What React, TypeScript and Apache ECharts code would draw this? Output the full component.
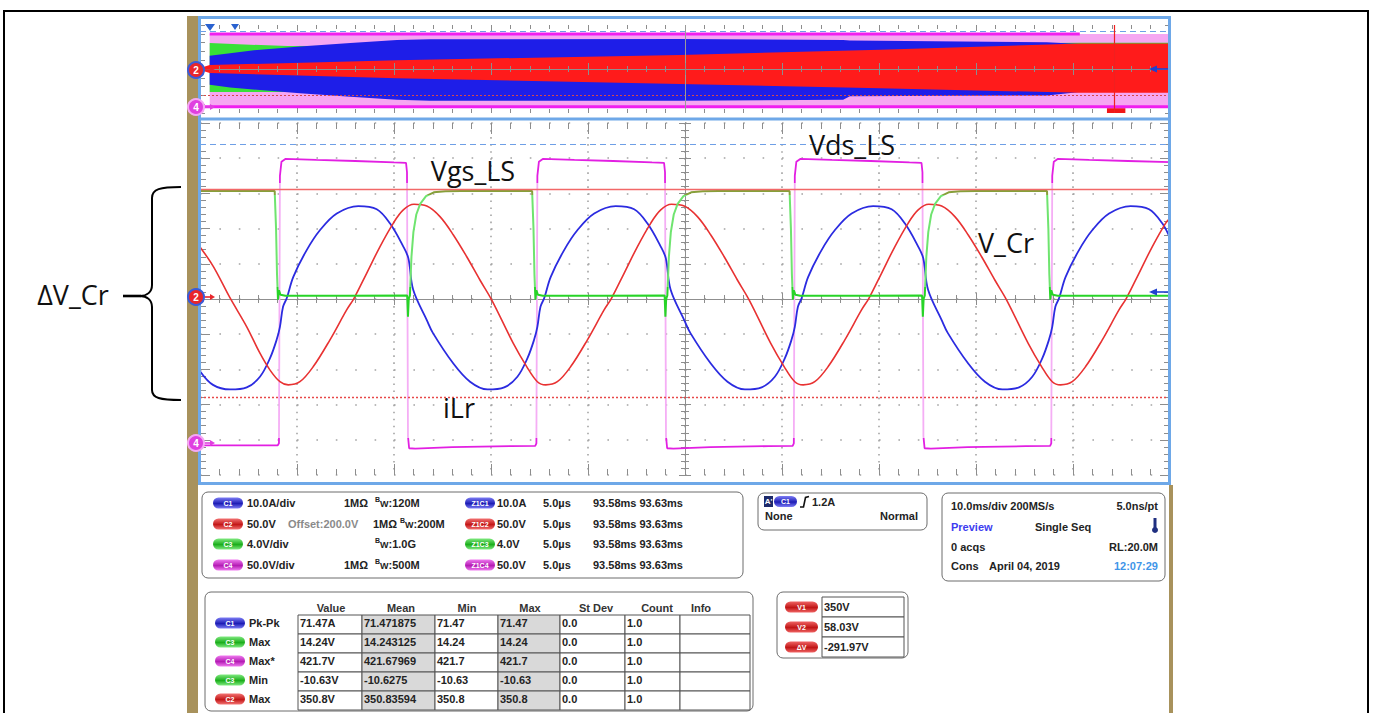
import React, { useEffect, useRef } from 'react';
import * as echarts from 'echarts';

// ================= DATA =================
// Zoomed traces: time in µs (5 µs/div), vertical position in screen divisions
const c1Points: [number, number][] = [ // iLr (blue)
  [-25.0, -2.05], [-24.33, -2.44], [-23.45, -2.57], [-22.59, -2.51], [-21.91, -2.21], [-21.39, -1.68], [-21.05, -1.16], [-20.88, -0.79], [-20.72, -0.22], [-20.53, 0.02], [-20.19, 0.63], [-19.5, 1.39], [-18.81, 1.96], [-17.95, 2.43], [-16.84, 2.64], [-15.89, 2.55], [-15.21, 2.15], [-14.52, 1.49], [-14.26, 1.16], [-14.01, 0.26], [-13.31, -0.6], [-12.99, -0.97], [-11.96, -1.82], [-11.08, -2.35],
  [-10.18, -2.57], [-9.32, -2.51], [-8.64, -2.21], [-8.12, -1.68], [-7.78, -1.16], [-7.61, -0.79], [-7.45, -0.22], [-7.26, 0.02], [-6.92, 0.63], [-6.23, 1.39], [-5.54, 1.96], [-4.68, 2.43], [-3.57, 2.64], [-2.62, 2.55], [-1.94, 2.15], [-1.25, 1.49], [-0.99, 1.16], [-0.74, 0.26], [-0.04, -0.6], [0.28, -0.97], [1.31, -1.82], [2.19, -2.35],
  [3.09, -2.57], [3.95, -2.51], [4.63, -2.21], [5.15, -1.68], [5.49, -1.16], [5.66, -0.79], [5.82, -0.22], [6.01, 0.02], [6.35, 0.63], [7.04, 1.39], [7.73, 1.96], [8.59, 2.43], [9.7, 2.64], [10.65, 2.55], [11.33, 2.15], [12.02, 1.49], [12.28, 1.16], [12.53, 0.26], [13.23, -0.6], [13.55, -0.97], [14.58, -1.82], [15.46, -2.35],
  [16.36, -2.57], [17.22, -2.51], [17.9, -2.21], [18.42, -1.68], [18.76, -1.16], [18.93, -0.79], [19.09, -0.22], [19.28, 0.02], [19.62, 0.63], [20.31, 1.39], [21.0, 1.96], [21.86, 2.43], [22.97, 2.64], [23.92, 2.55], [24.6, 2.15], [25.0, 1.73],
];
const c2Points: [number, number][] = [ // V_Cr (red)
  [-25.0, 1.48], [-24.31, 0.92], [-23.45, 0.03], [-22.59, -0.79], [-21.91, -1.54], [-21.39, -2.02], [-20.88, -2.35],
  [-20.45, -2.44], [-19.85, -2.35], [-19.16, -1.92], [-18.3, -1.16], [-17.44, -0.31], [-17.06, 0.02], [-16.41, 0.73], [-15.72, 1.49], [-15.04, 2.15], [-14.52, 2.53], [-13.97, 2.69], [-13.31, 2.64], [-12.63, 2.34], [-11.94, 1.82], [-11.25, 1.2], [-10.57, 0.54], [-9.96, -0.03], [-8.85, -1.26], [-8.16, -1.92], [-7.61, -2.35],
  [-7.18, -2.44], [-6.58, -2.35], [-5.89, -1.92], [-5.03, -1.16], [-4.17, -0.31], [-3.79, 0.02], [-3.14, 0.73], [-2.45, 1.49], [-1.77, 2.15], [-1.25, 2.53], [-0.7, 2.69], [-0.04, 2.64], [0.64, 2.34], [1.33, 1.82], [2.02, 1.2], [2.7, 0.54], [3.31, -0.03], [4.42, -1.26], [5.11, -1.92], [5.66, -2.35],
  [6.09, -2.44], [6.69, -2.35], [7.38, -1.92], [8.24, -1.16], [9.1, -0.31], [9.48, 0.02], [10.13, 0.73], [10.82, 1.49], [11.5, 2.15], [12.02, 2.53], [12.57, 2.69], [13.23, 2.64], [13.91, 2.34], [14.6, 1.82], [15.29, 1.2], [15.97, 0.54], [16.58, -0.03], [17.69, -1.26], [18.38, -1.92], [18.93, -2.35],
  [19.36, -2.44], [19.96, -2.35], [20.65, -1.92], [21.51, -1.16], [22.37, -0.31], [22.75, 0.02], [23.4, 0.73], [24.09, 1.49], [24.77, 2.15], [25.0, 2.3],
];
const c3Points: [number, number][] = [ // Vgs_LS (green)
  [-25.0, 3.07], [-21.15, 3.07], [-21.08, 2.0], [-21.03, 0.7], [-20.98, -0.02], [-20.93, 0.25], [-20.85, 0.12], [-20.6, 0.09], [-17.5, 0.09], [-14.32, 0.1], [-14.28, -0.5], [-14.24, 0.0], [-14.18, 0.1], [-14.1, 1.2], [-14.0, 1.9], [-13.85, 2.4], [-13.65, 2.7], [-13.35, 2.92], [-12.95, 3.03], [-12.35, 3.06], [-11.55, 3.07], [-7.88, 3.07],
  [-7.81, 2.0], [-7.76, 0.7], [-7.71, -0.02], [-7.66, 0.25], [-7.58, 0.12], [-7.33, 0.09], [-4.23, 0.09], [-1.05, 0.1], [-1.01, -0.5], [-0.97, 0.0], [-0.91, 0.1], [-0.83, 1.2], [-0.73, 1.9], [-0.58, 2.4], [-0.38, 2.7], [-0.08, 2.92], [0.32, 3.03], [0.92, 3.06], [1.72, 3.07], [5.39, 3.07],
  [5.46, 2.0], [5.51, 0.7], [5.56, -0.02], [5.61, 0.25], [5.69, 0.12], [5.94, 0.09], [9.04, 0.09], [12.22, 0.1], [12.26, -0.5], [12.3, 0.0], [12.36, 0.1], [12.44, 1.2], [12.54, 1.9], [12.69, 2.4], [12.89, 2.7], [13.19, 2.92], [13.59, 3.03], [14.19, 3.06], [14.99, 3.07], [18.66, 3.07],
  [18.73, 2.0], [18.78, 0.7], [18.83, -0.02], [18.88, 0.25], [18.96, 0.12], [19.21, 0.09], [22.3, 0.09], [25.0, 0.09],
];
const c4Points: [number, number][] = [ // Vds_LS (magenta)
  [-25.0, -4.16], [-21.0, -4.16], [-20.93, -4.1], [-20.88, 3.5], [-20.8, 3.9], [-20.6, 3.98], [-19.0, 3.95], [-17.0, 3.92], [-15.0, 3.88], [-14.38, 3.87], [-14.33, 3.6], [-14.28, -3.9], [-14.22, -4.24], [-13.9, -4.25], [-12.0, -4.21], [-9.0, -4.18],
  [-7.72, -4.17], [-7.66, -4.1], [-7.61, 3.5], [-7.53, 3.9], [-7.33, 3.98], [-5.7, 3.95], [-3.7, 3.92], [-1.7, 3.88], [-1.08, 3.87], [-1.03, 3.6], [-0.98, -3.9], [-0.92, -4.24], [-0.6, -4.25], [1.3, -4.21], [4.3, -4.18],
  [5.55, -4.17], [5.61, -4.1], [5.66, 3.5], [5.74, 3.9], [5.94, 3.98], [7.57, 3.95], [9.57, 3.92], [11.57, 3.88], [12.19, 3.87], [12.24, 3.6], [12.29, -3.9], [12.35, -4.24], [12.67, -4.25], [14.57, -4.21], [17.57, -4.18],
  [18.82, -4.17], [18.88, -4.1], [18.93, 3.5], [19.01, 3.9], [19.21, 3.98], [20.84, 3.95], [22.84, 3.92], [25.0, 3.89],
];
const cursorV1 = 3.12;     // V1 = 350 V (solid)
const cursorV2 = -2.8;     // V2 = 58.03 V (dotted)
const refDashed = 4.4;     // light blue dashed reference

// Overview (10 ms/div): [time ms, lower div, upper div]
const c4Env: [number, number, number][] = [[1.0, -4.28, 3.98], [100, -4.28, 3.98]];
const c3Env: [number, number, number][] = [[1.0, -2.6, 2.95], [9.0, -2.6, 2.6], [60, -2.6, 2.75], [90.7, -2.6, 2.98], [100, -2.6, 2.98]];
const c1Env: [number, number, number][] = [
  [1.0, -1.8, 1.5], [3.1, -2.1, 1.8], [6.2, -2.4, 2.2], [10.3, -2.75, 2.55], [15.5, -3.15, 2.95], [20.3, -3.5, 3.3], [23.7, -3.6, 3.38],
  [49.5, -3.6, 3.4], [66.3, -3.5, 3.3], [67.0, -3.1, 3.25], [87.3, -3.0, 3.05], [90.7, -2.6, 2.85], [100, -2.6, 2.85],
];
const c2Env: [number, number, number][] = [[0, -0.12, 0.12], [1.0, -0.45, 0.45], [20.3, -1.05, 1.0], [49.5, -1.7, 1.6], [70.1, -2.2, 2.2], [90.7, -2.7, 2.9], [100, -2.7, 2.9]];
const c4TopLine: [number, number][] = [[1.0, 3.98], [90.7, 3.98]];
const c4BottomLine: [number, number][] = [[0, -4.28], [100, -4.28]];
const ovRefDashed = 4.32;
const ovCursorV2 = -2.95;
const ovCenterTime = 50;
const ovZoomPos = 94.3;
const ovZoomBox = [93.5, 95.4];

// Info panels
const chanBadges = ['C1', 'C2', 'C3', 'C4'];
const chanScales = ['10.0A/div', '50.0V', '4.0V/div', '50.0V/div'];
const chanOffsets = ['', 'Offset:200.0V', '', ''];
const chanImped = ['1MΩ', '1MΩ', '', '1MΩ'];
const chanBw = ['120M', '200M', '1.0G', '500M'];
const zoomBadges = ['Z1C1', 'Z1C2', 'Z1C3', 'Z1C4'];
const zoomScales = ['10.0A', '50.0V', '4.0V', '50.0V'];
const zoomTimes = ['5.0µs', '5.0µs', '5.0µs', '5.0µs'];
const zoomWindows = ['93.58ms 93.63ms', '93.58ms 93.63ms', '93.58ms 93.63ms', '93.58ms 93.63ms'];

const measHeaders = ['Value', 'Mean', 'Min', 'Max', 'St Dev', 'Count', 'Info'];
const measChannels = ['C1', 'C3', 'C4', 'C3', 'C2'];
const measParams = ['Pk-Pk', 'Max', 'Max*', 'Min', 'Max'];
const measValue = ['71.47A', '14.24V', '421.7V', '-10.63V', '350.8V'];
const measMean = ['71.471875', '14.243125', '421.67969', '-10.6275', '350.83594'];
const measMin = ['71.47', '14.24', '421.7', '-10.63', '350.8'];
const measMax = ['71.47', '14.24', '421.7', '-10.63', '350.8'];
const measStdDev = ['0.0', '0.0', '0.0', '0.0', '0.0'];
const measCount = ['1.0', '1.0', '1.0', '1.0', '1.0'];

const cursorLabels = ['V1', 'V2', 'ΔV'];
const cursorValues = ['350V', '58.03V', '-291.97V'];

// ================= STYLE HELPERS =================
const FONT = '"Liberation Sans", Arial, sans-serif';
const TICK_C = '#8d8d8d';
const DOT_C = '#a4a4a4';
const BLUE_FRAME = '#6ea8e8';
const TAN = '#a8925c';

const PAL: Record<string, [string, string]> = {
  C1: ['#7d7df5', '#1d1db5'], Z1C1: ['#7d7df5', '#1d1db5'],
  C2: ['#f37272', '#c31818'], Z1C2: ['#f37272', '#c31818'],
  C3: ['#80ea80', '#1cae1c'], Z1C3: ['#80ea80', '#1cae1c'],
  C4: ['#f07af0', '#b41cb4'], Z1C4: ['#f07af0', '#b41cb4'],
  V1: ['#f06464', '#c01616'], V2: ['#f06464', '#c01616'], 'ΔV': ['#f06464', '#c01616'],
};

function txt(x: number, y: number, text: string, o: any = {}) {
  const align = o.align || 'left';
  return {
    type: 'text', x, y, z: o.z ?? 60, silent: true,
    style: {
      text, fill: o.color || '#232323', fontSize: o.size || 11, fontWeight: o.weight || 'bold',
      fontFamily: o.family || FONT, align, textAlign: align, verticalAlign: 'middle', textVerticalAlign: 'middle',
    },
  };
}
function rect(x: number, y: number, w: number, h: number, o: any = {}) {
  return {
    type: 'rect', z: o.z ?? 55, silent: true,
    shape: { x, y, width: w, height: h, r: o.r ?? 0 },
    style: { fill: o.fill ?? '#fff', stroke: o.stroke ?? 'none', lineWidth: o.lw ?? 1 },
  };
}
function badge(x: number, y: number, w: number, label: string) {
  const p = PAL[label] || PAL.C1;
  return [
    {
      type: 'rect', z: 58, silent: true, shape: { x, y: y - 5.5, width: w, height: 11, r: 5.5 },
      style: { fill: { type: 'linear', x: 0, y: 0, x2: 0, y2: 1, colorStops: [{ offset: 0, color: p[0] }, { offset: 0.55, color: p[1] }, { offset: 1, color: p[0] }] } },
    },
    txt(x + w / 2, y, label, { color: '#fff', size: 7, align: 'center', z: 59 }),
  ];
}
function line(x1: number, y1: number, x2: number, y2: number, color: string, w: number, z = 160) {
  return { type: 'line', z, silent: true, shape: { x1, y1, x2, y2 }, style: { stroke: color, lineWidth: w } };
}
function poly(points: number[][], color: string, z = 160) {
  return { type: 'polygon', z, silent: true, shape: { points }, style: { fill: color } };
}
function marker(cx: number, cy: number, label: string, fill: string, ring: string, arrow: string) {
  return [
    { type: 'circle', z: 170, silent: true, shape: { cx, cy, r: 8 }, style: { fill, stroke: ring, lineWidth: 2 } },
    txt(cx, cy + 0.5, label, { color: '#fff', size: 10, align: 'center', z: 171 }),
    line(cx + 9, cy, cx + 15, cy, arrow, 1.6, 170),
    poly([[cx + 14, cy - 3], [cx + 19, cy], [cx + 14, cy + 3]], arrow, 170),
  ];
}
function bez(x1: number, y1: number, c1x: number, c1y: number, c2x: number, c2y: number, x2: number, y2: number) {
  return {
    type: 'bezierCurve', z: 60, silent: true,
    shape: { x1, y1, cpx1: c1x, cpy1: c1y, cpx2: c2x, cpy2: c2y, x2, y2 },
    style: { stroke: '#000', lineWidth: 2, fill: 'none' },
  };
}

// ---- axes ----
function xEdge(gridIndex: number, min: number, max: number, interval: number, position: string, major: number, minor: number, split: number[] | null) {
  return {
    type: 'value', gridIndex, min, max, interval, position,
    axisLine: { show: false, onZero: false },
    axisTick: { show: true, inside: true, length: major, lineStyle: { color: TICK_C, width: 1 } },
    minorTick: { show: minor > 0, splitNumber: 5, length: minor, lineStyle: { color: TICK_C, width: 1 } },
    axisLabel: { show: false },
    splitLine: split ? { show: true, lineStyle: { color: DOT_C, width: 1.6, type: split } } : { show: false },
    minorSplitLine: { show: false },
  };
}
function xCenter(gridIndex: number, min: number, max: number, interval: number, inside: boolean, yIndex: number, z: number, minor: number) {
  return {
    type: 'value', gridIndex, min, max, interval, position: 'bottom', z,
    axisLine: { show: true, onZero: true, onZeroAxisIndex: yIndex, lineStyle: { color: '#8f8f8f', width: 1 } },
    axisTick: { show: true, inside, length: 6, lineStyle: { color: TICK_C } },
    minorTick: { show: true, splitNumber: 5, length: minor, lineStyle: { color: TICK_C } },
    axisLabel: { show: false }, splitLine: { show: false }, minorSplitLine: { show: false },
  };
}
function yEdge(gridIndex: number, position: string, major: number, minor: number, split: number[] | null) {
  return {
    type: 'value', gridIndex, min: -5, max: 5, interval: 1, position,
    axisLine: { show: false, onZero: false },
    axisTick: { show: true, inside: true, length: major, lineStyle: { color: TICK_C, width: 1 } },
    minorTick: { show: minor > 0, splitNumber: 5, length: minor, lineStyle: { color: TICK_C, width: 1 } },
    axisLabel: { show: false },
    splitLine: split ? { show: true, lineStyle: { color: DOT_C, width: 1.6, type: split } } : { show: false },
    minorSplitLine: { show: false },
  };
}
function yCenter(gridIndex: number, inside: boolean, xIndex: number) {
  return {
    type: 'value', gridIndex, min: -5, max: 5, interval: 1, position: 'left',
    axisLine: { show: true, onZero: true, onZeroAxisIndex: xIndex, lineStyle: { color: '#8f8f8f', width: 1 } },
    axisTick: { show: true, inside, length: 6, lineStyle: { color: TICK_C } },
    minorTick: { show: true, splitNumber: 5, length: 4, lineStyle: { color: TICK_C } },
    axisLabel: { show: false }, splitLine: { show: false }, minorSplitLine: { show: false },
  };
}

function envelopeSeries(env: [number, number, number][], color: string) {
  return {
    type: 'custom', coordinateSystem: 'cartesian2d', xAxisIndex: 0, yAxisIndex: 0, silent: true,
    data: env, encode: { x: 0, y: [1, 2] },
    renderItem: (params: any, api: any) => {
      if (params.dataIndex !== 0) return { type: 'group', children: [] };
      const upper = env.map((r) => api.coord([r[0], r[2]]));
      const lower = env.slice().reverse().map((r) => api.coord([r[0], r[1]]));
      return { type: 'polygon', shape: { points: upper.concat(lower) }, style: { fill: color } };
    },
  };
}

function buildOption() {
  const G: any[] = [];

  // outer border, scope frame
  G.push(rect(4, 11, 1364, 740, { fill: 'none', stroke: '#000', lw: 2, z: 200 }));
  G.push(rect(187, 16, 11, 700, { fill: TAN, z: 150 }));
  G.push(rect(1169, 485, 4, 230, { fill: TAN, z: 150 }));
  G.push(rect(199.5, 17.5, 970, 466, { fill: 'none', stroke: BLUE_FRAME, lw: 3, z: 150 }));
  G.push(line(199.5, 119, 1169.5, 119, BLUE_FRAME, 3, 150));

  // channel markers / arrows
  G.push(...marker(196, 70, '2', '#e8262b', '#3a5bd9', '#e8262b'));
  G.push(...marker(196, 107, '4', '#e040e0', '#f4a8f4', '#e040e0'));
  G.push(...marker(196, 297, '2', '#e8262b', '#3a5bd9', '#e8262b'));
  G.push(...marker(196, 443, '4', '#e040e0', '#f4a8f4', '#e040e0'));
  G.push(line(1156, 69, 1168, 69, '#2040d0', 1.6), poly([[1149, 69], [1157, 65.5], [1157, 72.5]], '#2040d0'));
  G.push(line(1156, 292, 1168, 292, '#2040d0', 1.6), poly([[1149, 292], [1157, 288.5], [1157, 295.5]], '#2040d0'));
  G.push(poly([[205, 24], [215, 24], [210, 31]], '#2a62d0'), poly([[231, 24], [239, 24], [235, 30]], '#2a62d0'));

  // annotations
  const ann = { family: '"Open Sans", "Noto Sans", sans-serif', size: 27, weight: 'normal', color: '#111' };
  G.push(txt(473, 170, 'Vgs_LS', { ...ann, align: 'center' }));
  G.push(txt(852, 144, 'Vds_LS', { ...ann, align: 'center' }));
  G.push(txt(1006, 242, 'V_Cr', { ...ann, align: 'center' }));
  G.push(txt(459, 407, 'iLr', { ...ann, align: 'center' }));
  G.push(txt(73, 294, 'ΔV_Cr', { ...ann, align: 'center' }));
  G.push(bez(181, 187, 160, 187, 152, 189, 152, 198));
  G.push({ type: 'line', z: 60, silent: true, shape: { x1: 152, y1: 198, x2: 152, y2: 285 }, style: { stroke: '#000', lineWidth: 2 } });
  G.push(bez(152, 285, 152, 292, 147, 296, 140, 296));
  G.push(bez(140, 296, 147, 296, 152, 300, 152, 307));
  G.push({ type: 'line', z: 60, silent: true, shape: { x1: 152, y1: 307, x2: 152, y2: 390 }, style: { stroke: '#000', lineWidth: 2 } });
  G.push(bez(152, 390, 152, 398, 160, 400, 181, 400));
  G.push({ type: 'line', z: 60, silent: true, shape: { x1: 123, y1: 296, x2: 141, y2: 296 }, style: { stroke: '#000', lineWidth: 2.6 } });

  // ---- channel panel ----
  G.push(rect(202, 492, 541, 86, { r: 6, stroke: '#6c6c6c' }));
  const rowY = [503, 524, 544, 565];
  chanBadges.forEach((b, i) => {
    const y = rowY[i];
    G.push(...badge(213, y, 30, b));
    G.push(txt(247, y, chanScales[i]));
    const hasOff = chanOffsets[i] !== '';
    if (hasOff) G.push(txt(288, y, chanOffsets[i], { color: '#8a8a8a' }));
    if (chanImped[i]) G.push(txt(hasOff ? 397 : 368, y, chanImped[i], { align: 'right' }));
    const bx = hasOff ? 400 : 375;
    G.push(txt(bx, y - 4, 'B', { size: 7 }));
    G.push(txt(bx + 5, y + 1, 'W', { size: 9 }));
    G.push(txt(bx + 13.5, y, ':' + chanBw[i]));
    G.push(...badge(465, y, 30, zoomBadges[i]));
    G.push(txt(497, y, zoomScales[i]));
    G.push(txt(543, y, zoomTimes[i]));
    G.push(txt(593, y, zoomWindows[i]));
  });

  // ---- trigger panel ----
  G.push(rect(758, 493, 169, 37, { r: 6, stroke: '#6c6c6c' }));
  G.push(rect(764, 496, 9, 11, { fill: '#1d2a6b', z: 58 }));
  G.push(txt(768.5, 501.5, "A'", { color: '#fff', size: 8, align: 'center', z: 59 }));
  G.push(...badge(774, 501.5, 23, 'C1'));
  G.push({ type: 'polyline', z: 60, silent: true, shape: { points: [[800, 507], [803.5, 507], [805.5, 497.5], [809, 496.5]] }, style: { stroke: '#111', lineWidth: 1.6, fill: 'none' } });
  G.push(txt(812, 501.5, '1.2A'));
  G.push(txt(765, 516, 'None'));
  G.push(txt(918, 516, 'Normal', { align: 'right' }));

  // ---- timebase panel ----
  G.push(rect(942, 493, 223, 88, { r: 6, stroke: '#6c6c6c' }));
  G.push(txt(951, 506, '10.0ms/div 200MS/s'));
  G.push(txt(1158, 506, '5.0ns/pt', { align: 'right' }));
  G.push(txt(951, 527, 'Preview', { color: '#3d3df0' }));
  G.push(txt(1035, 527, 'Single Seq'));
  G.push(rect(1153.5, 518, 3, 11, { fill: '#1f2f80', z: 58 }));
  G.push({ type: 'circle', z: 58, silent: true, shape: { cx: 1155, cy: 530, r: 3 }, style: { fill: '#1f2f80' } });
  G.push(txt(951, 547, '0 acqs'));
  G.push(txt(1158, 547, 'RL:20.0M', { align: 'right' }));
  G.push(txt(951, 566, 'Cons'));
  G.push(txt(989, 566, 'April 04, 2019'));
  G.push(txt(1158, 566, '12:07:29', { align: 'right', color: '#3f95e8' }));

  // ---- measurement table ----
  G.push(rect(205, 592, 548, 119, { r: 6, stroke: '#6c6c6c' }));
  const headX = [331, 401, 467, 530, 596, 657, 701];
  measHeaders.forEach((h, i) => G.push(txt(headX[i], 607.5, h, { align: 'center', color: '#333' })));
  const colX = [298, 362, 435, 498, 560, 625, 680, 750];
  const rowTop = [615, 634, 653, 672, 691];
  const cols = [measValue, measMean, measMin, measMax, measStdDev, measCount];
  measChannels.forEach((ch, r) => {
    const ty = rowTop[r] + 8;
    G.push(...badge(215, ty, 30, ch));
    G.push(txt(249, ty, measParams[r]));
    for (let c = 0; c < 7; c++) {
      const gray = c === 1 || c === 3;
      G.push(rect(colX[c], rowTop[r], colX[c + 1] - colX[c], 19, { fill: gray ? '#d9d9d9' : '#fff', stroke: '#555', lw: 1, z: 56 }));
      if (c < 6) G.push(txt(colX[c] + 2, ty, cols[c][r]));
    }
  });

  // ---- cursor panel ----
  G.push(rect(777, 592, 131, 66, { r: 6, stroke: '#6c6c6c' }));
  cursorLabels.forEach((lab, i) => {
    const top = 597 + i * 20;
    G.push(rect(822, top, 82, 20, { fill: '#fff', stroke: '#555', z: 56 }));
    G.push(...badge(785, top + 10, 33, lab));
    G.push(txt(824, top + 10, cursorValues[i]));
  });

  const mainLine = (data: [number, number][], color: string | null, smooth: number | boolean, width = 1.8) => ({
    type: 'line', xAxisIndex: 4, yAxisIndex: 2, data, showSymbol: false, symbol: 'none', smooth, silent: true,
    lineStyle: color ? { color, width } : { width },
    ...(color ? { itemStyle: { color } } : {}),
  });

  return {
    animation: false,
    backgroundColor: '#ffffff',
    grid: [
      { left: 200, top: 25, width: 970, height: 88, show: false, outerBoundsMode: 'none' },
      { left: 200, top: 123, width: 970, height: 352, show: false, outerBoundsMode: 'none' },
    ],
    xAxis: [
      xEdge(0, 0, 100, 10, 'bottom', 6, 4, null),
      xEdge(0, 0, 100, 10, 'top', 6, 4, null),
      xCenter(0, 0, 100, 10, true, 0, 5, 3),
      xCenter(0, 0, 100, 10, false, 0, 5, 3),
      xEdge(1, -25, 25, 5, 'bottom', 11, 6, [1.6, 5.44]),
      xEdge(1, -25, 25, 5, 'top', 11, 6, null),
      xCenter(1, -25, 25, 5, true, 2, 1, 4),
      xCenter(1, -25, 25, 5, false, 2, 1, 4),
    ],
    yAxis: [
      yEdge(0, 'left', 5, 0, null),
      yEdge(0, 'right', 5, 0, null),
      yEdge(1, 'left', 10, 6, [1.6, 17.8]),
      yEdge(1, 'right', 10, 6, null),
      yCenter(1, true, 4),
      yCenter(1, false, 4),
    ],
    visualMap: [
      {
        type: 'piecewise', show: false, seriesIndex: 6, dimension: 1,
        pieces: [{ gt: 3.3, color: '#e21fe2' }, { lt: -3.95, color: '#e21fe2' }, { gte: -3.95, lte: 3.3, color: '#f5aef5' }],
      },
      {
        type: 'piecewise', show: false, seriesIndex: 9, dimension: 1,
        pieces: [{ gt: 2.95, color: '#879f3a' }, { lt: 0.35, color: '#27d427' }, { gte: 0.35, lte: 2.95, color: '#6fe46f' }],
      },
    ],
    series: [
      envelopeSeries(c4Env, '#f6a6f2'),
      envelopeSeries(c3Env, '#38e038'),
      envelopeSeries(c1Env, '#1e1ee8'),
      envelopeSeries(c2Env, '#ff1b1b'),
      { type: 'line', xAxisIndex: 0, yAxisIndex: 0, data: c4TopLine, showSymbol: false, symbol: 'none', silent: true, lineStyle: { color: '#f01ef0', width: 3 } },
      {
        type: 'line', xAxisIndex: 0, yAxisIndex: 0, data: c4BottomLine, showSymbol: false, symbol: 'none', silent: true,
        lineStyle: { color: '#f01ef0', width: 3 },
        markLine: {
          silent: true, symbol: ['none', 'none'], label: { show: false }, animation: false,
          data: [
            { yAxis: ovRefDashed, lineStyle: { color: '#6e9fe6', type: [6, 4], width: 1.2 } },
            { yAxis: ovCursorV2, lineStyle: { color: '#d84848', type: [2, 2], width: 1.2 } },
            { xAxis: ovCenterTime, lineStyle: { color: '#9a9a9a', type: 'solid', width: 1 } },
            { xAxis: ovZoomPos, lineStyle: { color: '#f02020', type: 'solid', width: 1.2 } },
          ],
        },
        markArea: {
          silent: true, itemStyle: { color: '#f01818' },
          data: [[{ xAxis: ovZoomBox[0], yAxis: -4.45 }, { xAxis: ovZoomBox[1], yAxis: -5 }]],
        },
      },
      mainLine(c4Points, null, false, 1.8),
      mainLine(c1Points, '#2b2be0', 0.35, 1.8),
      mainLine(c2Points, '#e83232', 0.35, 1.6),
      mainLine(c3Points, null, false, 2),
      {
        type: 'line', xAxisIndex: 4, yAxisIndex: 2, data: [[-25, cursorV1]], showSymbol: false, symbol: 'none', silent: true,
        lineStyle: { opacity: 0 },
        markLine: {
          silent: true, symbol: ['none', 'none'], label: { show: false }, animation: false,
          data: [
            { yAxis: cursorV1, lineStyle: { color: '#f26868', type: 'solid', width: 1.3, opacity: 1 } },
            { yAxis: cursorV2, lineStyle: { color: '#e84848', type: [2, 2], width: 1.3, opacity: 1 } },
            { yAxis: refDashed, lineStyle: { color: '#6e9fe6', type: [6, 4], width: 1.2, opacity: 1 } },
          ],
        },
      },
    ],
    graphic: G,
  };
}

export default function App() {
  const ref = useRef<HTMLDivElement>(null);
  useEffect(() => {
    if (!ref.current) return;
    const chart = echarts.init(ref.current, undefined, { renderer: 'svg' });
    chart.setOption(buildOption() as any);
    return () => chart.dispose();
  }, []);
  return <div ref={ref} style={{ position: 'absolute', left: 0, top: 0, width: 1373, height: 713, background: '#fff' }} />;
}
